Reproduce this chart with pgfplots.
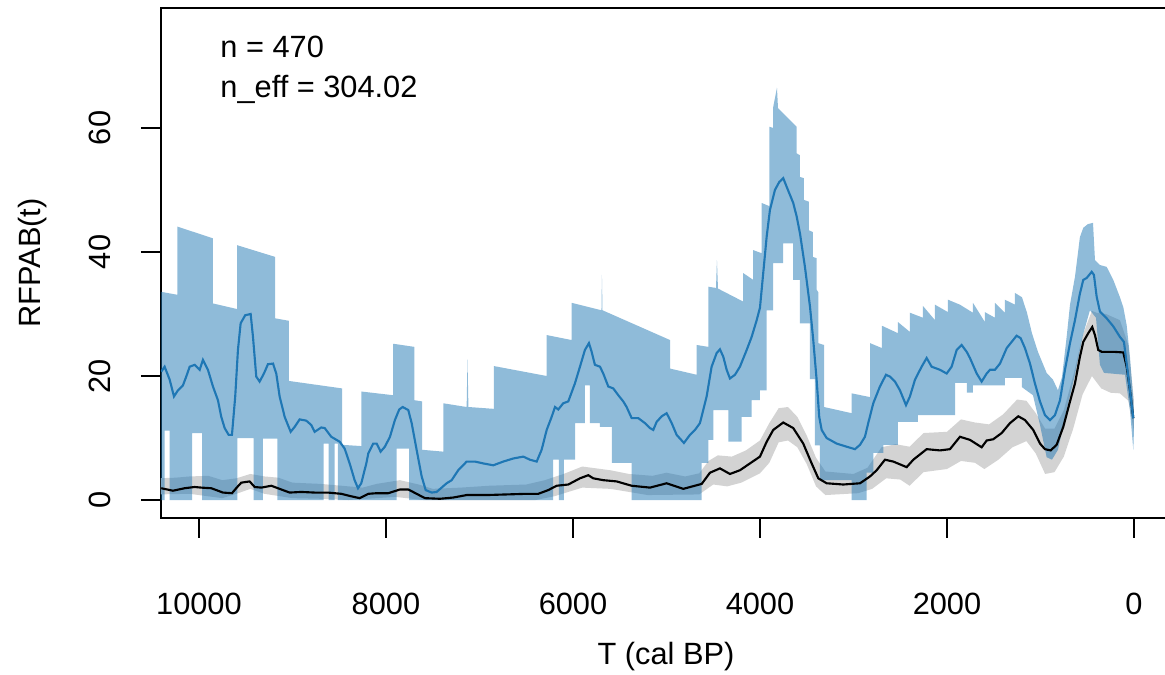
\documentclass[border=0pt]{standalone}
\usepackage{pgfplots}
\pgfplotsset{compat=1.18}
\usepackage{fontspec}
\setmainfont{Liberation Sans}
\definecolor{rblue}{HTML}{1F77B4}
\definecolor{rgrey}{HTML}{D3D3D3}

\begin{document}
\begin{tikzpicture}[font=\fontsize{12.3pt}{14.8pt}\selectfont]
\path[use as bounding box] (0,0) rectangle (466pt,270pt);
\begin{axis}[
    at={(64.4pt,62.8pt)}, anchor=south west,
    scale only axis, width=404pt, height=204pt,
    x dir=reverse,
    xmin=-396, xmax=10406, ymin=-2.9, ymax=79.35,
    xtick={0,2000,4000,6000,8000,10000},
    ytick={0,20,40,60},
    scaled x ticks=false,
    tick pos=left, tick align=outside,
    major tick length=8pt,
    axis line style={line width=0.8pt},
    every tick/.style={black, line width=0.8pt},
    /pgf/number format/assume math mode=true,
    /pgf/number format/1000 sep={},
    xticklabel style={inner sep=0pt, anchor=north},
    xticklabel shift=22pt,
    yticklabel style={inner sep=0pt, rotate=90, anchor=south},
    yticklabel shift=12pt,
    xlabel={T (cal BP)},
    ylabel={RFPAB(t)},
    xlabel style={at={(axis description cs:0.5,-0.2725)}, anchor=center},
    ylabel style={at={(axis description cs:-0.1267,0.5)}, anchor=center},
]
% grey band
\addplot[fill=rgrey, draw=none] coordinates {
 (10450,3.5) (10250,3.6) (10100,3.8) (9900,3.9) (9750,3.2) (9600,3.5) (9450,4.2) (9300,3.8)
 (9150,3.6) (9000,2.8) (8700,2.6) (8400,2.2) (8250,2.0) (8100,2.6) (7850,3.2) (7650,2.5)
 (7500,1.8) (7200,2.0) (6900,2.3) (6500,2.5) (6300,3.2) (6100,4.2) (5900,5.4) (5800,5.2)
 (5600,4.8) (5400,4.2) (5150,3.9) (5000,4.4) (4800,3.8) (4650,4.3) (4550,6.3) (4450,7.2)
 (4300,7.0) (4150,8.0) (4000,9.6) (3900,12.4) (3800,14.8) (3700,15.0) (3600,13.4) (3500,10.4)
 (3400,6.8) (3300,4.6) (3000,4.2) (2850,5.2) (2700,8.5) (2550,9.0) (2400,8.6) (2250,10.8)
 (2000,11.0) (1850,13.0) (1700,12.5) (1550,12.2) (1400,13.8) (1250,16.2) (1150,16.0) (1050,14.0)
 (950,11.5) (850,11.5) (750,14.5) (650,20.0) (550,26.5) (450,30.5) (400,30.2) (300,30.0)
 (150,29.0) (60,25.0) (0,16.0)
 (0,11.0) (60,16.0) (150,17.2) (250,17.3) (350,18.0) (450,20.0) (550,17.0) (650,11.5)
 (750,7.0) (850,4.5) (950,4.2) (1050,7.5) (1150,9.5) (1300,8.5) (1450,6.5) (1600,5.0)
 (1700,6.0) (1850,6.3) (2000,5.0) (2250,4.5) (2400,2.3) (2500,3.3) (2650,3.5) (2800,1.8)
 (2950,1.1) (3300,0.8) (3400,2.2) (3500,5.8) (3600,8.5) (3700,9.6) (3800,9.3) (3900,6.0)
 (4000,4.3) (4200,2.8) (4350,2.2) (4500,2.5) (4650,0.9) (5200,0.8) (5600,1.8) (5900,2.0)
 (6200,0.6) (6400,0) (7600,0) (7900,0.5) (8400,0) (8700,0.2) (9000,0.3) (9300,1.0)
 (9450,1.8) (9600,1.0) (9750,0.3) (10100,1.0) (10450,0.9)
};
% blue band
\addplot[fill=rblue, fill opacity=0.5, draw=none] coordinates {
 (10450,33.7) (10232,33.1) (10232,44.1) (9850,42.2) (9850,31.7) (9593,30.8) (9593,41.1) (9184,39.2)
 (9184,29.3) (9037,28.9) (9037,19.2) (8470,18.0) (8470,8.9) (8264,8.7) (8264,17.5) (7922,16.9)
 (7922,25.2) (7697,24.7) (7697,16.1) (7612,15.9) (7612,8.1) (7387,7.8) (7387,15.6) (7137,15.0)
 (7128,22.7) (7118,15.0) (6845,14.7) (6845,21.6) (6281,20.0) (6281,26.6) (6014,25.8) (6014,31.8)
 (5695,30.6) (5690,36.3) (5684,30.6) (4962,25.8) (4962,21.2) (4677,20.2) (4677,25.0) (4553,24.7)
 (4553,34.4) (4470,34.2) (4460,38.7) (4449,34.1) (4179,32.0) (4179,36.6) (4072,35.5) (4072,40.3)
 (3982,39.8) (3982,47.9) (3900,47.4) (3900,60.2) (3858,60.0) (3858,63.4) (3818,66.5) (3807,63.2)
 (3607,60.2) (3607,55.9) (3572,55.6) (3572,52.1) (3529,51.9) (3529,48.4) (3476,48.1) (3476,43.5)
 (3433,43.2) (3433,39.2) (3393,39.0) (3393,33.9) (3376,33.5) (3376,25.3) (3315,25.0) (3315,15.0)
 (3019,14.0) (3019,17.2) (2823,16.6) (2823,25.3) (2695,24.5) (2695,28.1) (2524,26.9) (2524,28.7)
 (2396,27.1) (2396,30.2) (2257,29.4) (2257,31.3) (2128,29.0) (2128,31.5) (1989,30.3) (1989,32.3)
 (1861,31.5) (1722,30.2) (1722,31.8) (1594,28.7) (1594,30.3) (1487,29.4) (1487,31.8) (1380,30.2)
 (1380,32.3) (1273,31.5) (1273,33.4) (1198,32.7) (1144,30.2) (1091,26.9) (1027,23.9) (934,20.5)
 (866,19.4) (813,17.7) (770,19.8) (720,26.3) (684,31.5) (631,36.0) (578,42.4) (542,43.9)
 (492,44.5) (438,44.7) (417,38.7) (364,37.9) (292,37.6) (221,35.5) (150,32.7) (114,31.1)
 (78,28.2) (43,23.1) (7,16.1) (0,13.5)
 (0,11.3) (7,8.1) (43,14.5) (96,20.2) (321,20.5) (364,21.8) (406,29.4) (471,30.6)
 (546,26.6) (631,20.2) (720,14.5) (813,8.1) (877,6.5) (934,6.9) (1005,12.1) (1080,16.9)
 (1198,18.2) (1198,19.7) (1380,19.7) (1380,18.5) (1722,18.5) (1722,17.3) (1786,17.3) (1786,18.9)
 (1914,18.9) (1914,13.7) (2310,13.7) (2310,12.6) (2524,12.6) (2524,8.9) (2681,8.9) (2681,7.6)
 (2788,7.6) (2788,4.4) (2859,4.4) (2859,0) (3019,0) (3019,3.2) (3358,3.2) (3358,8.8)
 (3412,8.8) (3412,19.5) (3465,19.5) (3465,28.5) (3572,28.5) (3572,35.5) (3644,35.5) (3644,41.4)
 (3751,41.4) (3751,38.2) (3858,38.2) (3858,30.6) (3928,30.6) (3928,17.7) (4000,17.7) (4000,16.1)
 (4089,16.1) (4089,13.4) (4196,13.4) (4196,9.4) (4339,9.4) (4339,14.5) (4499,14.5) (4499,9.7)
 (4553,9.7) (4553,6.0) (4623,6.0) (4623,0) (5372,0) (5372,6.0) (5583,6.0) (5583,11.8)
 (5711,11.8) (5711,12.4) (5818,12.4) (5818,18.5) (5872,18.5) (5872,12.4) (5978,12.4) (5978,6.5)
 (6096,6.5) (6096,0) (6150,0) (6150,6.5) (6211,6.5) (6211,0) (7751,0) (7751,8.3)
 (7885,8.3) (7885,0) (8513,0) (8513,9.1) (8549,9.1) (8549,0) (8613,0) (8613,9.1)
 (8666,9.1) (8666,0) (9162,0) (9162,9.9) (9315,9.9) (9315,0) (9415,0) (9415,10.0)
 (9590,10.0) (9590,0) (9965,0) (9965,10.8) (10072,10.8) (10072,0) (10313,0) (10313,11.2)
 (10367,11.2) (10367,0) (10450,0)
};
% black line
\addplot[black, line width=0.85pt] coordinates {
 (10403,1.9) (10278,1.5) (10153,1.9) (10046,2.1) (9975,2.0) (9868,1.9) (9743,1.2) (9647,1.1)
 (9590,2.1) (9547,2.8) (9458,3.0) (9404,2.1) (9333,2.0) (9226,2.3) (9155,1.9) (9030,1.2)
 (8906,1.3) (8762,1.2) (8620,1.2) (8478,1.0) (8371,0.6) (8281,0.3) (8189,1.0) (8099,1.1)
 (7975,1.1) (7850,1.7) (7761,1.7) (7672,1.0) (7583,0.3) (7422,0.2) (7280,0.4) (7137,0.8)
 (6923,0.8) (6709,0.9) (6495,1.0) (6371,1.0) (6264,1.6) (6174,2.3) (6050,2.5) (5925,3.5)
 (5836,4.0) (5783,3.5) (5676,3.2) (5533,3.0) (5372,2.3) (5176,2.0) (4998,2.7) (4820,1.8)
 (4623,2.6) (4535,4.4) (4428,5.1) (4321,4.2) (4214,4.8) (4107,5.9) (4000,7.0) (3928,9.4)
 (3858,11.3) (3751,12.5) (3644,11.6) (3537,9.1) (3447,5.9) (3376,3.5) (3287,2.7) (3109,2.5)
 (2930,2.7) (2823,3.8) (2752,4.8) (2663,6.5) (2574,6.2) (2431,5.3) (2360,6.5) (2217,8.2)
 (2075,8.0) (1968,8.2) (1861,10.2) (1754,9.7) (1629,8.5) (1575,9.6) (1505,9.8) (1415,10.8)
 (1326,12.4) (1237,13.5) (1166,12.9) (1077,11.3) (1005,9.1) (952,8.2) (891,8.0) (827,8.9)
 (756,11.8) (684,15.9) (631,18.8) (578,23.1) (542,25.5) (489,26.9) (446,27.9) (417,26.6)
 (382,24.2) (345,23.9) (221,23.9) (114,23.8) (78,21.5) (43,17.7) (7,13.2)
};
% blue line
\addplot[rblue, line width=0.85pt] coordinates {
 (10403,20.7) (10367,21.5) (10313,19.4) (10267,16.7) (10224,17.7) (10171,18.5) (10136,19.9) (10099,21.5)
 (10046,21.8) (9992,21.0) (9957,22.6) (9904,21.0) (9850,18.3) (9797,16.1) (9761,13.4) (9725,11.6)
 (9682,10.5) (9647,10.5) (9612,16.7) (9583,24.2) (9554,28.5) (9505,29.8) (9447,30.0) (9422,26.3)
 (9387,19.9) (9351,19.1) (9305,20.4) (9262,21.9) (9208,22.0) (9173,20.4) (9137,16.7) (9083,13.4)
 (9019,11.0) (8976,11.8) (8923,13.0) (8852,12.8) (8799,12.1) (8762,11.0) (8692,11.7) (8655,11.6)
 (8585,10.2) (8495,9.4) (8442,8.3) (8388,5.9) (8335,3.2) (8299,1.9) (8264,2.7) (8210,5.9)
 (8189,7.5) (8136,9.1) (8099,9.1) (8057,7.8) (8011,8.6) (7957,10.2) (7904,12.9) (7858,14.6)
 (7821,15.0) (7761,14.5) (7725,12.4) (7672,8.1) (7618,3.8) (7575,1.6) (7511,1.2) (7458,1.3)
 (7351,2.7) (7297,3.2) (7227,4.8) (7137,6.2) (7048,6.2) (6959,5.9) (6852,5.6) (6745,6.2)
 (6638,6.7) (6531,7.0) (6460,6.5) (6388,6.2) (6335,8.1) (6281,11.3) (6228,13.4) (6192,15.0)
 (6157,14.6) (6104,15.6) (6050,15.9) (5979,18.8) (5925,21.5) (5872,24.2) (5829,25.3) (5800,23.9)
 (5765,21.8) (5711,21.5) (5676,20.4) (5622,18.3) (5569,18.0) (5515,16.9) (5462,15.9) (5426,15.0)
 (5372,13.2) (5301,13.2) (5230,12.4) (5176,11.6) (5141,11.3) (5105,12.6) (5051,13.5) (4998,14.0)
 (4944,12.4) (4891,10.5) (4813,9.2) (4749,10.5) (4695,11.3) (4642,12.4) (4570,16.7) (4517,21.5)
 (4463,23.7) (4428,24.3) (4392,23.1) (4356,21.0) (4321,19.6) (4267,20.2) (4214,21.5) (4142,24.2)
 (4089,26.3) (4035,29.0) (4000,31.0) (3965,36.6) (3928,42.5) (3893,46.8) (3840,50.0) (3793,51.3)
 (3751,51.9) (3714,50.5) (3679,49.2) (3644,47.9) (3607,45.7) (3572,43.0) (3519,37.6) (3465,31.2)
 (3430,25.8) (3394,19.4) (3366,13.4) (3340,11.3) (3287,10.0) (3180,9.1) (3073,8.6) (2984,8.2)
 (2930,8.9) (2877,10.2) (2842,12.4) (2788,15.6) (2717,18.3) (2652,20.2) (2610,19.9) (2556,19.1)
 (2503,17.7) (2438,15.3) (2396,16.7) (2342,19.4) (2271,21.5) (2217,22.9) (2164,21.5) (2075,21.0)
 (2003,20.4) (1950,21.5) (1896,24.2) (1843,25.0) (1789,23.9) (1754,22.9) (1682,20.4) (1629,19.1)
 (1575,20.4) (1540,21.0) (1487,21.0) (1433,22.0) (1361,24.5) (1308,25.5) (1255,26.5) (1212,26.1)
 (1166,24.5) (1112,22.0) (1059,18.8) (1005,15.9) (952,13.7) (898,12.9) (845,13.7) (791,16.1)
 (738,21.0) (684,25.3) (631,29.0) (578,33.3) (542,35.5) (506,35.8) (452,36.8) (428,36.3)
 (399,32.8) (364,30.4) (292,29.3) (221,28.0) (150,26.3) (107,25.5) (78,22.0) (43,17.7)
 (7,13.2)
};
\node[anchor=base west, inner sep=0pt] at (axis description cs:0.0584,0.902) {n = 470};
\node[anchor=base west, inner sep=0pt] at (axis description cs:0.0584,0.8235) {n\_eff = 304.02};
\end{axis}
\end{tikzpicture}
\end{document}
